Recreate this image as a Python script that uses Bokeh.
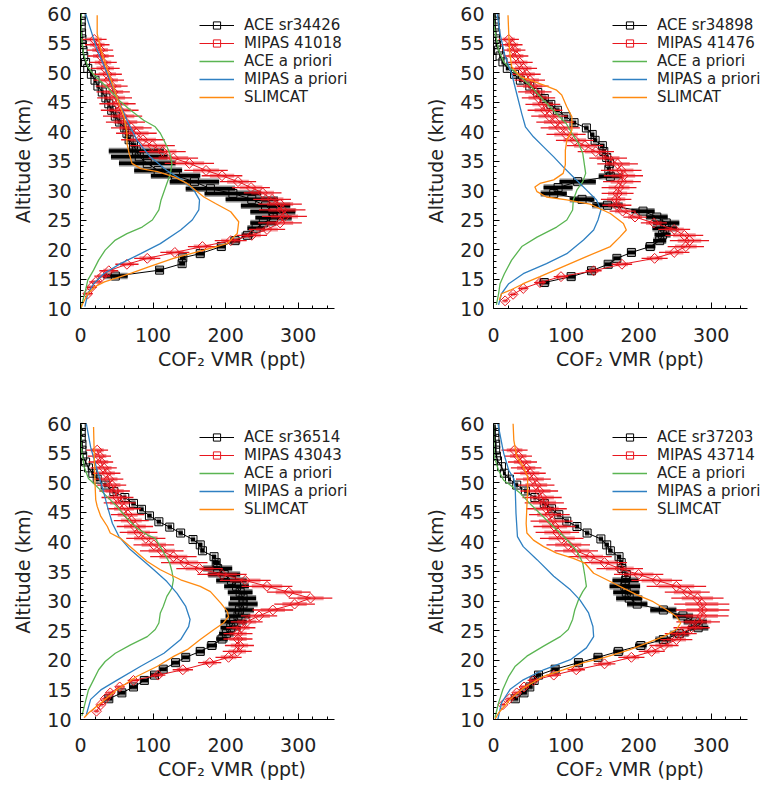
import numpy as np
from bokeh.plotting import figure
from bokeh.layouts import gridplot
from bokeh.models import Range1d, FixedTicker, Legend, LegendItem, ColumnDataSource
from bokeh.embed import file_html
from bokeh.resources import INLINE

# ---------------- data ----------------
ace_labels = ["ACE sr34426", "ACE sr34898", "ACE sr36514", "ACE sr37203"]
mipas_labels = ["MIPAS 41018", "MIPAS 41476", "MIPAS 43043", "MIPAS 43714"]
x_ticks = [0, 100, 200, 300]
y_ticks = [10, 15, 20, 25, 30, 35, 40, 45, 50, 55, 60]

# Panel 1
ace_alt_1 = [59.7, 58.7, 57.7, 56.7, 55.7, 54.7, 53.7, 52.7, 51.7, 50.7, 49.7, 48.7, 47.7, 46.7, 45.7,
             44.7, 43.6, 42.6, 41.6, 40.6, 39.7, 38.6, 37.7, 36.7, 35.7, 34.6, 33.4, 32.5, 31.5, 30.3,
             29.5, 28.5, 27.4, 26.4, 25.4, 24.5, 23.6, 22.4, 21.5, 20.5, 19.3, 18.6, 17.6, 16.5, 15.5]
ace_vmr_1 = [1, 1, 1, 1.5, 2, 2.5, 3.5, 4.5, 7, 10, 15, 20, 24, 30, 35,
             39, 43, 48, 54, 61, 64, 67, 73, 77, 81, 92, 107, 131, 157, 179,
             210, 236, 255, 265, 266, 252, 242, 230, 213, 194, 165, 141, 140, 109, 48]
ace_err_1 = [1, 1, 1, 1, 1, 1, 1, 1, 1, 1, 2, 2, 2, 2, 2,
             2, 3, 3, 3, 3, 3, 3, 4, 38, 39, 39, 33, 34, 34, 34,
             39, 36, 34, 31, 25, 18, 12, 8, 7, 6, 6, 4, 4, 5, 17]
mip_alt_1 = [55.6, 54.7, 53.8, 52.8, 51.7, 50.7, 49.7, 48.7, 47.7, 46.7, 45.7, 44.7, 43.6, 42.6, 41.6,
             40.6, 39.7, 38.6, 37.6, 36.6, 35.5, 34.6, 33.4, 32.5, 31.5, 30.5, 29.6, 28.5, 27.7, 26.7,
             25.6, 24.5, 23.4, 22.4, 21.5, 20.5, 19.5, 18.5, 17.5, 16.4, 15.5, 14.5, 13.6, 12.5]
mip_vmr_1 = [19, 23, 27, 28, 31, 34, 37, 39, 43, 45, 47, 51, 54, 58, 62,
             70, 77, 86, 99, 113, 128, 150, 173, 195, 217, 235, 251, 264, 275, 278,
             281, 275, 257, 236, 207, 168, 130, 92, 64, 39, 30, 21, 15, 10]
mip_err_1 = [17, 17, 18, 18, 19, 20, 20, 21, 22, 23, 24, 25, 26, 27, 27,
             28, 28, 30, 31, 32, 34, 34, 30, 28, 25, 26, 26, 26, 30, 32,
             31, 30, 25, 21, 22, 20, 20, 18, 16, 13, 11, 9, 7, 6]
acep_alt_1 = [60, 56.6, 53.2, 51.0, 49.8, 48.7, 47.6, 45.3, 43.6, 41.9, 40.8, 39.7, 38.0, 36.3, 34.6,
              32.9, 31.2, 29.8, 28.4, 26.7, 25.0, 23.8, 22.7, 21.6, 19.9, 18.2, 16.5, 14.8, 13.1, 10.8, 10]
acep_vmr_1 = [1, 1, 4, 10, 17, 26, 36, 53, 69, 87, 103, 110, 117, 123, 126,
              124, 119, 115, 111, 108, 99, 85, 64, 48, 34, 25, 18, 10, 7, 2, 1]
mipp_alt_1 = [60, 53.8, 49.8, 45.9, 41.9, 38.5, 35.7, 33.4, 31.8, 30.1, 28.4, 26.7, 25.0, 23.3, 21.0,
              19.3, 17.6, 15.9, 14.2, 12.5, 10.3]
mipp_vmr_1 = [7, 23, 37, 50, 64, 78, 96, 119, 140, 156, 164, 163, 154, 138, 110,
              83, 55, 32, 18, 10, 6]
slim_alt_1 = [59.7, 56.6, 53.8, 49.8, 45.9, 42.5, 39.7, 38.0, 36.3, 34.6, 33.7, 33.2, 32.3, 31.2, 30.1,
              28.9, 27.8, 26.4, 24.7, 22.7, 21.0, 19.9, 18.5, 17.1, 16.0, 15.2, 14.5, 13.7, 12.5, 10.8, 10.2]
slim_vmr_1 = [23, 23, 28, 39, 50, 60, 64, 64, 67, 71, 83, 106, 129, 147, 158,
              170, 186, 207, 218, 216, 202, 170, 128, 95, 70, 50, 33, 20, 10, 3, 1]

# Panel 2
ace_alt_2 = [59.7, 58.7, 57.7, 56.7, 55.7, 54.7, 53.8, 52.8, 51.8, 50.7, 49.7, 48.7, 47.7, 46.6, 45.6,
             44.6, 43.6, 42.5, 41.5, 40.6, 39.5, 38.5, 37.6, 36.6, 35.6, 34.6, 33.6, 32.4, 31.5, 30.5,
             29.5, 28.5, 27.5, 26.5, 25.5, 24.5, 23.6, 22.5, 21.5, 20.5, 19.5, 18.5, 17.5, 16.4, 15.4, 14.4]
ace_vmr_2 = [2, 2, 2, 3, 3, 4, 7, 9, 13, 19, 29, 37, 50, 61, 70,
             79, 88, 100, 111, 128, 136, 140, 150, 152, 156, 160, 159, 161, 116, 89,
             83, 122, 157, 206, 225, 238, 236, 233, 229, 216, 190, 170, 158, 135, 107, 70]
ace_err_2 = [1, 1, 1, 1, 1, 1, 1, 1, 2, 2, 2, 2, 2, 2, 3,
             3, 3, 3, 3, 3, 3, 3, 3, 3, 3, 3, 3, 16, 25, 20,
             18, 17, 21, 16, 15, 18, 17, 11, 9, 7, 6, 5, 5, 6, 6, 7]
mip_alt_2 = [55.6, 54.7, 53.8, 52.8, 51.7, 50.7, 49.7, 48.7, 47.7, 46.7, 45.7, 44.6, 43.6, 42.6, 41.6,
             40.6, 39.5, 38.5, 37.6, 36.6, 35.5, 34.5, 33.4, 32.5, 31.5, 30.5, 29.5, 28.5, 27.5, 26.5,
             25.5, 24.5, 23.4, 22.4, 21.5, 20.5, 19.5, 18.5, 17.5, 16.4, 15.4, 14.4, 13.4, 12.4, 11.3]
mip_vmr_2 = [21, 25, 28, 31, 36, 41, 45, 50, 54, 57, 62, 68, 71, 77, 85,
             92, 100, 112, 126, 141, 158, 171, 176, 179, 177, 173, 171, 169, 170, 178,
             195, 221, 249, 263, 270, 265, 249, 222, 177, 138, 93, 64, 41, 27, 16]
mip_err_2 = [14, 15, 16, 17, 18, 19, 20, 21, 22, 23, 23, 24, 24, 25, 26,
             27, 27, 26, 25, 25, 26, 28, 28, 27, 26, 24, 22, 21, 20, 18,
             16, 18, 22, 26, 27, 25, 21, 18, 14, 11, 10, 8, 6, 5, 4]
acep_alt_2 = [60, 57.7, 53.8, 51.8, 50.7, 49.3, 47.6, 45.3, 43.0, 41.4, 39.7, 38.0, 36.3, 34.6,
              32.9, 31.5, 30.1, 28.4, 26.7, 25.0, 23.8, 22.1, 20.5, 18.2, 15.9, 14.2, 12.5, 10.6]
acep_vmr_2 = [0, 1, 7, 14, 23, 37, 52, 69, 87, 100, 108, 117, 123, 125,
              127, 123, 115, 110, 109, 101, 87, 60, 39, 25, 15, 9, 7, 4]
mipp_alt_2 = [60, 56.6, 52.7, 49.8, 46.4, 43.0, 40.8, 39.1, 37.4, 35.7, 34.0, 32.3, 30.1, 28.4,
              26.7, 25.0, 23.3, 21.6, 19.3, 17.6, 15.9, 14.2, 12.5, 10.6]
mipp_vmr_2 = [5, 9, 16, 25, 32, 39, 44, 55, 69, 83, 96, 110, 128, 142,
              148, 144, 138, 124, 101, 73, 41, 21, 11, 7]
slim_alt_2 = [59.7, 56.6, 53.8, 51.0, 49.3, 48.4, 47.7, 47.0, 46.2, 44.2, 42.5, 40.2, 38.5, 36.8, 34.4,
              32.9, 31.8, 31.2, 30.6, 29.8, 28.9, 28.4, 27.7, 26.1, 24.4, 23.3, 22.1, 20.5, 18.8, 17.1,
              15.4, 14.2, 13.1, 12.5, 11.4]
slim_vmr_2 = [20, 21, 22, 25, 37, 57, 73, 87, 94, 101, 108, 108, 101, 99, 99,
              96, 83, 64, 57, 60, 73, 101, 133, 161, 179, 183, 174, 161, 128, 96,
              64, 41, 23, 11, 8]

# Panel 3
ace_alt_3 = [59.5, 58.5, 57.5, 56.5, 55.5, 54.5, 53.5, 52.5, 51.6, 50.6, 49.6, 48.5, 47.5, 46.5, 45.5,
             44.4, 43.4, 42.5, 41.5, 40.4, 39.5, 38.5, 37.5, 36.5, 35.5, 34.5, 33.5, 32.5, 31.5, 30.5,
             29.5, 28.5, 27.5, 26.5, 25.5, 24.5, 23.6, 22.5, 21.5, 20.5, 19.6, 18.5, 17.5, 16.6, 15.5,
             14.5, 13.5]
ace_vmr_3 = [1, 1, 1, 2, 2, 3, 7, 11, 17, 23, 34, 46, 61, 73, 84,
             95, 108, 123, 138, 155, 165, 168, 184, 187, 189, 198, 208, 215, 220, 224,
             224, 219, 217, 211, 207, 201, 195, 181, 165, 145, 131, 114, 102, 88, 73,
             57, 39]
ace_err_3 = [1, 1, 1, 1, 1, 1, 1, 1, 2, 2, 2, 2, 2, 3, 3,
             3, 3, 3, 3, 3, 3, 3, 3, 5, 20, 22, 21, 17, 17, 18,
             20, 20, 17, 18, 14, 10, 8, 7, 6, 5, 5, 5, 5, 5, 5,
             5, 5]
mip_alt_3 = [55.5, 54.5, 53.5, 52.5, 51.6, 50.6, 49.6, 48.6, 47.5, 46.6, 45.6, 44.6, 43.6, 42.6, 41.6,
             40.6, 39.5, 38.5, 37.5, 36.5, 35.5, 34.5, 33.5, 32.5, 31.5, 30.5, 29.5, 28.5, 27.5, 26.5,
             25.5, 24.5, 23.6, 22.5, 21.5, 20.5, 19.6, 18.4, 17.5, 16.6, 15.5, 14.5, 13.5, 12.5, 11.4]
mip_vmr_3 = [23, 26, 28, 32, 36, 39, 43, 47, 51, 54, 60, 65, 70, 75, 80,
             90, 101, 112, 128, 143, 164, 195, 227, 257, 287, 317, 295, 265, 246, 229,
             221, 217, 217, 219, 216, 204, 178, 141, 107, 73, 54, 41, 34, 28, 22]
mip_err_3 = [15, 16, 17, 18, 19, 20, 20, 21, 22, 22, 23, 23, 24, 25, 26,
             27, 28, 30, 32, 32, 32, 34, 35, 35, 30, 30, 28, 28, 25, 22,
             20, 20, 20, 20, 20, 18, 16, 14, 10, 8, 6, 6, 5, 5, 4]
acep_alt_3 = [60, 56, 52.7, 50.7, 49.3, 47.6, 46, 44, 42.3, 41.2, 40.6, 39.2, 37.5, 36.4, 35,
              33.6, 32.2, 30.8, 29.1, 28, 26.3, 25.2, 24, 22.6, 21.2, 19.8, 18.4, 16.7, 15, 13.1, 10.6]
acep_vmr_3 = [0, 1, 5, 11, 23, 37, 50, 64, 78, 92, 103, 110, 118, 123, 126,
              128, 126, 119, 114, 110, 108, 103, 92, 69, 48, 34, 25, 18, 11, 7, 2]
mipp_alt_3 = [60, 56, 52.1, 49.3, 46, 43.1, 40.9, 38.9, 37.2, 35.3, 33.3, 31.3, 29.1, 26.9, 25.7,
              23.5, 21.2, 19, 16.7, 15, 13.4, 10.8]
mipp_vmr_3 = [8, 14, 23, 30, 37, 44, 53, 67, 83, 101, 119, 133, 145, 151, 149,
              138, 115, 83, 51, 28, 14, 8]
slim_alt_3 = [59.4, 54.4, 49.9, 47.1, 46, 44.3, 42.6, 41.5, 40.6, 38.7, 36.7, 35.3, 33.6, 32.5, 31.6,
              29.7, 28.3, 27.4, 26.3, 25.2, 23.5, 21.8, 20.7, 19, 17.3, 15.1, 12.8, 11.1, 10.3]
slim_vmr_3 = [18, 19, 20, 21, 23, 28, 37, 41, 55, 73, 92, 110, 138, 165, 179,
              193, 202, 204, 197, 184, 165, 147, 129, 106, 78, 51, 28, 11, 5]

# Panel 4
ace_alt_4 = [59.5, 58.5, 57.5, 56.5, 55.5, 54.5, 53.7, 52.7, 51.6, 50.6, 49.6, 48.6, 47.5, 46.5, 45.6,
             44.6, 43.5, 42.6, 41.5, 40.5, 39.5, 38.5, 37.5, 36.5, 35.5, 34.5, 33.5, 32.5, 31.5, 30.5,
             29.5, 28.5, 27.5, 26.5, 25.5, 24.5, 23.5, 22.5, 21.5, 20.5, 19.6, 18.5, 17.5, 16.6, 15.5,
             14.5, 13.5]
ace_vmr_4 = [2, 2, 2, 3, 3, 4, 5.5, 11, 15, 22, 32, 44, 57, 70, 80,
             90, 101, 115, 129, 148, 156, 161, 173, 176, 177, 183, 182, 181, 183, 187,
             198, 234, 261, 278, 282, 256, 234, 203, 172, 144, 117, 85, 62, 56, 50,
             42, 30]
ace_err_4 = [1, 1, 1, 1, 1, 1, 1, 1, 2, 2, 2, 2, 2, 3, 3,
             3, 3, 3, 3, 3, 3, 3, 3, 3, 3, 3, 18, 21, 18, 18,
             14, 18, 14, 16, 14, 13, 11, 8, 7, 6, 6, 5, 4, 4, 4,
             4, 4]
mip_alt_4 = [55.5, 54.5, 53.5, 52.5, 51.6, 50.6, 49.6, 48.6, 47.5, 46.6, 45.6, 44.6, 43.5, 42.6, 41.6,
             40.6, 39.5, 38.5, 37.5, 36.5, 35.5, 34.5, 33.5, 32.5, 31.5, 30.5, 29.5, 28.5, 27.5, 26.5,
             25.5, 24.5, 23.5, 22.5, 21.5, 20.5, 19.4, 18.4, 17.5, 16.6, 15.5, 14.5, 13.5, 12.5]
mip_vmr_4 = [29, 34, 40, 45, 50, 55, 59, 63, 67, 70, 73, 77, 80, 84, 88,
             94, 103, 114, 133, 153, 174, 200, 225, 252, 267, 281, 287, 288, 287, 282,
             273, 258, 252, 235, 218, 190, 153, 114, 83, 55, 42, 32, 22, 13]
mip_err_4 = [18, 19, 20, 21, 22, 24, 25, 26, 27, 27, 28, 28, 29, 29, 30,
             30, 30, 30, 30, 31, 32, 34, 35, 41, 31, 36, 38, 37, 37, 30,
             25, 22, 22, 20, 18, 18, 15, 12, 10, 8, 7, 6, 5, 4]
acep_alt_4 = [60, 54.4, 52.1, 50.4, 49.6, 48.2, 46.5, 44.8, 43.1, 41.5, 40.1, 38.9, 37.5, 36.4, 34.2,
              32.5, 31.6, 30.2, 28.5, 26.9, 25.2, 24, 22.4, 20.7, 19, 17.3, 15.1, 12.8, 10.3]
acep_vmr_4 = [0, 1, 7, 14, 23, 37, 50, 64, 78, 92, 103, 112, 119, 123, 126,
              128, 123, 117, 112, 109, 103, 92, 69, 46, 30, 21, 13, 7, 2]
mipp_alt_4 = [60, 55, 52.1, 50.7, 48.8, 44.8, 40.9, 39.2, 37, 34.2, 31.9, 30.2, 28, 25.7, 24,
              22.1, 20.1, 18.4, 16.7, 15.1, 12.8, 10]
mipp_vmr_4 = [6, 14, 21, 28, 30, 31, 33, 41, 60, 83, 106, 119, 131, 137, 138,
              128, 106, 69, 41, 23, 11, 6]
slim_alt_4 = [60, 57.2, 54.4, 52.7, 51, 48.8, 46, 43.1, 41.5, 40.3, 39.2, 38.1, 37.2, 36.4, 34.7,
              33.6, 32.2, 31.1, 29.9, 28.5, 27.4, 26.3, 25.2, 24, 22.9, 21.8, 20.4, 19.6, 18.4, 17.3,
              15.3, 13.4, 11.1, 10]
slim_vmr_4 = [27, 28, 32, 41, 47, 47, 46, 45, 46, 55, 69, 87, 110, 126, 138,
              156, 179, 197, 220, 239, 252, 258, 252, 234, 211, 188, 151, 124, 96, 69,
              41, 23, 7, 2]

# ---------------- style ----------------
FONT = "DejaVu Sans"
RED = "#e8161e"
GREEN = "#5ab552"
BLUE = "#2f80c2"
ORANGE = "#ff8a10"
TXT = "#222222"
X_AXIS_END = 350
AXIS_PX = 254  # pixel length of the 0-350 axis


def panel(width, height, bl, bt, bb, legend_y, xlab_standoff,
          ace, mip, acep, mipp, slim, ace_label, mip_label):
    frame_w = width - bl
    x_max = X_AXIS_END * frame_w / AXIS_PX
    p = figure(width=width, height=height,
               x_range=Range1d(0, x_max), y_range=Range1d(10, 60),
               output_backend="svg", toolbar_location=None,
               min_border_left=bl, min_border_right=0,
               min_border_top=bt, min_border_bottom=bb)
    p.outline_line_color = None
    p.grid.visible = False
    p.background_fill_color = "white"
    p.border_fill_color = "white"

    p.xaxis.ticker = FixedTicker(ticks=x_ticks, minor_ticks=list(range(0, 351, 20)))
    p.yaxis.ticker = FixedTicker(ticks=y_ticks, minor_ticks=list(range(10, 61)))
    p.xaxis.bounds = (0, X_AXIS_END)
    p.xaxis.axis_label = "COF\u2082 VMR (ppt)"
    p.yaxis.axis_label = "Altitude (km)"
    for ax in (p.xaxis[0], p.yaxis[0]):
        ax.axis_line_color = "black"
        ax.axis_line_width = 1
        ax.major_tick_in = 6
        ax.major_tick_out = 0
        ax.minor_tick_in = 3
        ax.minor_tick_out = 0
        ax.major_tick_line_color = "black"
        ax.minor_tick_line_color = "black"
        ax.major_label_text_font = FONT
        ax.major_label_text_font_size = "19px"
        ax.major_label_text_color = TXT
        ax.axis_label_text_font = FONT
        ax.axis_label_text_font_size = "19px"
        ax.axis_label_text_font_style = "normal"
        ax.axis_label_text_color = TXT
    p.xaxis.major_label_standoff = xlab_standoff
    p.xaxis.axis_label_standoff = 3
    p.yaxis.major_label_standoff = 9
    p.yaxis.axis_label_standoff = 10

    a_alt, a_vmr, a_err = (np.array(v, dtype=float) for v in ace)
    m_alt, m_vmr, m_err = (np.array(v, dtype=float) for v in mip)

    # ACE error bars
    asrc = ColumnDataSource(dict(x0=a_vmr - a_err, x1=a_vmr + a_err, y=a_alt))
    p.segment(x0="x0", x1="x1", y0="y", y1="y", source=asrc,
              line_color="#8c8c8c", line_width=6.5)
    p.segment(x0="x0", x1="x1", y0="y", y1="y", source=asrc,
              line_color="black", line_width=3.5)
    ace_line = p.line(a_vmr, a_alt, line_color="black", line_width=1)
    ace_mk = p.scatter(a_vmr, a_alt, marker="square", size=8,
                       line_color="black", fill_color=None, line_width=1)

    # MIPAS error bars
    msrc = ColumnDataSource(dict(x0=m_vmr - m_err, x1=m_vmr + m_err,
                                 p0=m_vmr - 0.6 * m_err, p1=m_vmr + 0.6 * m_err, y=m_alt))
    p.segment(x0="p0", x1="p1", y0="y", y1="y", source=msrc,
              line_color=RED, line_alpha=0.45, line_width=4)
    p.segment(x0="x0", x1="x1", y0="y", y1="y", source=msrc,
              line_color=RED, line_width=1.3)
    mip_line = p.line(m_vmr, m_alt, line_color=RED, line_width=1)
    mip_mk = p.scatter(m_vmr, m_alt, marker="square", size=7, angle=np.pi / 4,
                       line_color=RED, fill_color=None, line_width=1)

    acep_line = p.line(acep[1], acep[0], line_color=GREEN, line_width=1.3)
    mipp_line = p.line(mipp[1], mipp[0], line_color=BLUE, line_width=1.3)
    slim_line = p.line(slim[1], slim[0], line_color=ORANGE, line_width=1.3)

    legend = Legend(items=[
        LegendItem(label=ace_label, renderers=[ace_line, ace_mk]),
        LegendItem(label=mip_label, renderers=[mip_line, mip_mk]),
        LegendItem(label="ACE a priori", renderers=[acep_line]),
        LegendItem(label="MIPAS a priori", renderers=[mipp_line]),
        LegendItem(label="SLIMCAT", renderers=[slim_line]),
    ])
    legend.location = (119, legend_y)
    legend.padding = 0
    legend.margin = 0
    legend.spacing = 0
    legend.label_standoff = 10
    legend.glyph_width = 35
    legend.glyph_height = 18
    legend.label_height = 18
    legend.border_line_alpha = 0
    legend.background_fill_alpha = 0
    legend.label_text_font = FONT
    legend.label_text_font_size = "15px"
    legend.label_text_color = TXT
    p.add_layout(legend)
    return p


p1 = panel(383, 392, 80, 13, 84, 202, 19,
           (ace_alt_1, ace_vmr_1, ace_err_1), (mip_alt_1, mip_vmr_1, mip_err_1),
           (acep_alt_1, acep_vmr_1), (mipp_alt_1, mipp_vmr_1), (slim_alt_1, slim_vmr_1),
           ace_labels[0], mipas_labels[0])
p2 = panel(383, 392, 110, 13, 84, 202, 19,
           (ace_alt_2, ace_vmr_2, ace_err_2), (mip_alt_2, mip_vmr_2, mip_err_2),
           (acep_alt_2, acep_vmr_2), (mipp_alt_2, mipp_vmr_2), (slim_alt_2, slim_vmr_2),
           ace_labels[1], mipas_labels[1])
p3 = panel(383, 392, 80, 31, 65, 201, 18,
           (ace_alt_3, ace_vmr_3, ace_err_3), (mip_alt_3, mip_vmr_3, mip_err_3),
           (acep_alt_3, acep_vmr_3), (mipp_alt_3, mipp_vmr_3), (slim_alt_3, slim_vmr_3),
           ace_labels[2], mipas_labels[2])
p4 = panel(383, 392, 110, 31, 65, 201, 18,
           (ace_alt_4, ace_vmr_4, ace_err_4), (mip_alt_4, mip_vmr_4, mip_err_4),
           (acep_alt_4, acep_vmr_4), (mipp_alt_4, mipp_vmr_4), (slim_alt_4, slim_vmr_4),
           ace_labels[3], mipas_labels[3])

grid = gridplot([[p1, p2], [p3, p4]], toolbar_location=None)

open("out.html", "w").write(file_html(grid, INLINE))
